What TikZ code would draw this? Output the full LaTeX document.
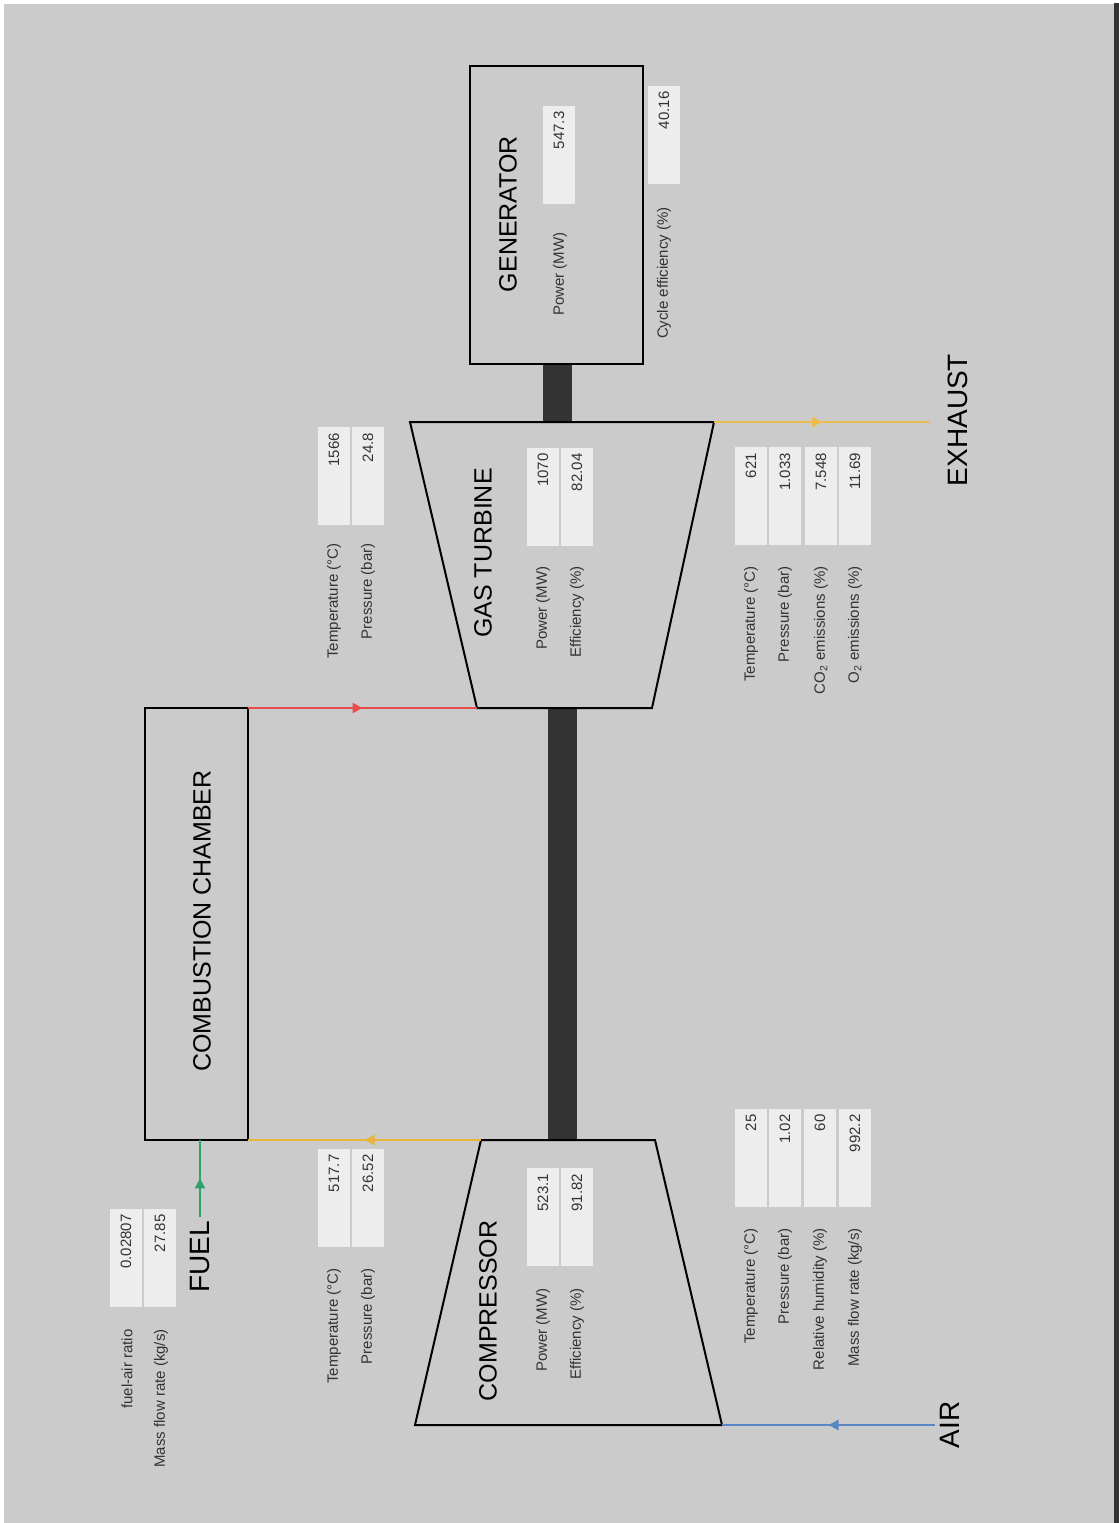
\documentclass[tikz,border=0pt]{standalone}
\usepackage{fontspec}
\setmainfont{Liberation Sans}
\usepackage{tikz}
\usetikzlibrary{
        decorations.markings,
        arrows.meta,
    }
\definecolor{bggray}{HTML}{CBCBCB}
\definecolor{boxfill}{HTML}{EDEDED}
\definecolor{txtgray}{HTML}{333333}
\definecolor{shaft}{HTML}{333333}
\definecolor{hotred}{HTML}{E84C4C}
\definecolor{warmyel}{HTML}{E8B63A}
\definecolor{fuelgrn}{HTML}{2DA36B}
\definecolor{airblue}{HTML}{5B86C5}

\begin{document}
\begin{tikzpicture}[x=0.5pt,y=-0.5pt,
  unit/.style={draw=black,line width=1pt},
  title/.style={rotate=90,font=\fontsize{12.5}{15}\selectfont},
  flowname/.style={rotate=90,font=\fontsize{14}{16}\selectfont},
  lbl/.style={rotate=90,anchor=east,inner sep=0pt,text=txtgray,font=\fontsize{7.5}{9}\selectfont},
  val/.style={rotate=90,fill=boxfill,inner ysep=0pt,inner xsep=3pt,minimum height=16pt,
    text width=43pt,align=right,text=txtgray,font=\fontsize{7.5}{9}\selectfont},
  flow/.style={line width=1.3pt,postaction={decorate},
    decoration={markings,mark=at position 0.5 with {\arrow{Triangle[length=5pt,width=5pt]}}}},
]
\useasboundingbox (0,0) rectangle (1119,1523);
\fill[white] (0,0) rectangle (1119,1523);
\fill[bggray] (4,4) rectangle (1114,1523);
\fill[black!80] (1114,3) rectangle (1119,1523);

% shafts
\fill[shaft] (548,708) rectangle (577,1140);
\fill[shaft] (543,364) rectangle (572,422);

% units
\node[unit,minimum width=51.5pt,minimum height=216pt,inner sep=0pt,outer sep=0pt] (cc) at (196.5,924) {};
\node[unit,minimum width=86.5pt,minimum height=149pt,inner sep=0pt,outer sep=0pt] (gen) at (556.5,215) {};

\coordinate (c1) at (481,1140);
\coordinate (c2) at (655,1140);
\coordinate (c3) at (722,1425);
\coordinate (c4) at (415,1425);
\draw[unit] (c1) -- (c2) -- (c3) -- (c4) -- cycle;

\coordinate (t1) at (410,422);
\coordinate (t2) at (714,422);
\coordinate (t3) at (652,708);
\coordinate (t4) at (477,708);
\draw[unit] (t1) -- (t2) -- (t3) -- (t4) -- cycle;

\node[title] (cctitle) at (202,921) {COMBUSTION CHAMBER};
\node[title] (comptitle) at (488,1311) {COMPRESSOR};
\node[title] (gttitle) at (483,553) {GAS TURBINE};
\node[title] (gentitle) at (508,214) {GENERATOR};

% streams
\node[flowname,inner sep=2pt] (fuel) at (200,1257) {FUEL};
\node[flowname] (exh) at (958,420) {EXHAUST};
\node[flowname] (air) at (950,1425) {AIR};
\coordinate (exhout) at (930,422);
\coordinate (airin) at (935,1425);

\draw[flow,fuelgrn] (fuel.east) -- (fuel.east |- cc.south);
\draw[flow,warmyel] (c1) -- (cc.south east);
\draw[flow,hotred] (cc.north east) -- (t4);
\draw[flow,warmyel!90!white] (t2) -- (exhout);
\draw[flow,airblue] (airin) -- (c3);

% fuel
\node[val] (far) at (126,1257.5) {0.02807};
\node[val] (fmdot) at (160,1257.5) {27.85};
\node[lbl] (farl) at (127,1329) {fuel-air ratio};
\node[lbl] (fmdotl) at (161,1329) {Mass flow rate (kg/s)};

% compressor outlet
\node[val] (coT) at (334,1197.5) {517.7};
\node[val] (cop) at (368,1197.5) {26.52};
\node[lbl] (coTl) at (334,1268) {Temperature (°C)};
\node[lbl] (copl) at (368,1268) {Pressure (bar)};

% compressor
\node[val] (cW) at (543,1217) {523.1};
\node[val] (ceta) at (577,1217) {91.82};
\node[lbl] (cWl) at (543,1288) {Power (MW)};
\node[lbl] (cetal) at (577,1288) {Efficiency (\%)};

% compressor inlet
\node[val] (ciT) at (751,1157.5) {25};
\node[val] (cip) at (785,1157.5) {1.02};
\node[val] (cirh) at (820,1157.5) {60};
\node[val] (cimdot) at (855,1157.5) {992.2};
\node[lbl] (ciTl) at (751,1228) {Temperature (°C)};
\node[lbl] (cipl) at (785,1228) {Pressure (bar)};
\node[lbl] (cirhl) at (820,1228) {Relative humidity (\%)};
\node[lbl] (cimdotl) at (855,1228) {Mass flow rate (kg/s)};

% turbine inlet
\node[val] (tiT) at (334,476) {1566};
\node[val] (tip) at (368,476) {24.8};
\node[lbl] (tiTl) at (334,543) {Temperature (°C)};
\node[lbl] (tipl) at (368,543) {Pressure (bar)};

% turbine
\node[val] (tW) at (543,496.5) {1070};
\node[val] (teta) at (577,496.5) {82.04};
\node[lbl] (tWl) at (543,566) {Power (MW)};
\node[lbl] (tetal) at (577,566) {Efficiency (\%)};

% exhaust
\node[val] (eT) at (751,496) {621};
\node[val] (ep) at (785,496) {1.033};
\node[val] (eco) at (821,496) {7.548};
\node[val] (eo) at (855,496) {11.69};
\node[lbl] (eTl) at (751,566) {Temperature (°C)};
\node[lbl] (epl) at (785,566) {Pressure (bar)};
\node[lbl] (ecol) at (821,566) {CO\textsubscript{2} emissions (\%)};
\node[lbl] (eol) at (855,566) {O\textsubscript{2} emissions (\%)};

% generator
\node[val] (gW) at (559,154.5) {547.3};
\node[lbl] (gWl) at (560,232) {Power (MW)};
\node[val] (geta) at (664,134.5) {40.16};
\node[lbl] (getal) at (664,207) {Cycle efficiency (\%)};
\end{tikzpicture}
\end{document}
